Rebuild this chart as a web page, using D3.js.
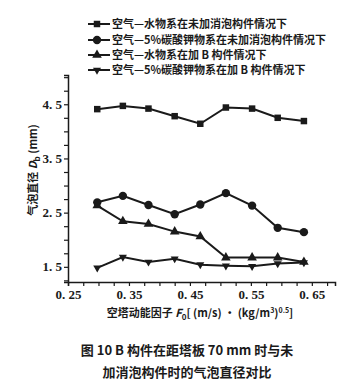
<!DOCTYPE html>
<html><head><meta charset="utf-8">
<script src="https://cdn.jsdelivr.net/npm/d3@7"></script>
<style>body{margin:0;background:#fff}svg{display:block}</style>
</head><body>
<script>
const xValues = [0.298, 0.340, 0.382, 0.425, 0.467, 0.509, 0.552, 0.594, 0.637];
const waterNoPart = [4.41, 4.47, 4.42, 4.28, 4.14, 4.44, 4.42, 4.25, 4.19];
const k2co3NoPart = [2.69, 2.81, 2.64, 2.47, 2.65, 2.86, 2.63, 2.22, 2.14];
const waterB = [2.63, 2.34, 2.29, 2.15, 2.06, 1.67, 1.67, 1.67, 1.59];
const k2co3B = [1.48, 1.68, 1.59, 1.65, 1.54, 1.52, 1.51, 1.56, 1.58];
const seriesNames = ["空气—水物系在未加消泡构件情况下","空气—5%碳酸钾物系在未加消泡构件情况下","空气—水物系在加 B 构件情况下","空气—5%碳酸钾物系在加 B 构件情况下"];
const symbols = [d3.symbolSquare, d3.symbolCircle, d3.symbolTriangle, d3.symbolTriangle];
const xTickLabels = [0.25, 0.35, 0.45, 0.55, 0.65];
const yTickLabels = [1.5, 2.5, 3.5, 4.5];

const W = 356, H = 388;
const svg = d3.select("body").append("svg").attr("width", W).attr("height", H);
const ink = "#1a1a1a";
const x = d3.scaleLinear().domain([0.25, 0.688]).range([68, 335]);
const y = d3.scaleLinear().domain([1.22, 5.04]).range([282, 75]);
const tickFont = "'Liberation Serif', 'DejaVu Serif', serif";
const cjk = "'Noto Sans CJK SC', sans-serif";

// axes
const xAxis = d3.axisBottom(x).tickValues(d3.range(0.25, 0.69, 0.025)).tickSize(4).tickFormat(d => {
  const r = Math.round(d * 1000) / 1000;
  return xTickLabels.some(v => Math.abs(v - r) < 1e-6) ? r.toFixed(2).replace(".", ". ") : "";
});
const gx = svg.append("g").attr("transform", "translate(0,282)").call(xAxis);
gx.select(".domain").attr("stroke", ink).attr("stroke-width", 1.5);
gx.selectAll(".tick line").attr("stroke", ink).attr("stroke-width", 1.2);
gx.selectAll("text").attr("font-family", tickFont).attr("font-size", 13).attr("font-weight", "bold").attr("fill", ink).attr("dy", "0.75em");

const yAxis = d3.axisLeft(y).tickValues(d3.range(1.25, 5.01, 0.25)).tickSize(4).tickFormat(d => {
  const r = Math.round(d * 100) / 100;
  return yTickLabels.some(v => Math.abs(v - r) < 1e-6) ? r.toFixed(1).replace(".", ". ") : "";
});
const gy = svg.append("g").attr("transform", "translate(68,0)").call(yAxis);
gy.select(".domain").attr("stroke", ink).attr("stroke-width", 1.5);
gy.selectAll(".tick line").attr("stroke", ink).attr("stroke-width", 1.2);
gy.selectAll("text").attr("font-family", tickFont).attr("font-size", 13).attr("font-weight", "bold").attr("fill", ink).attr("x", -6);

// series
const allSeries = [waterNoPart, k2co3NoPart, waterB, k2co3B];
const sizes = [42, 55, 40, 28];
const line = d3.line().x((d, i) => x(xValues[i])).y(d => y(d));
allSeries.forEach((s, k) => {
  svg.append("path").attr("d", line(s)).attr("fill", "none").attr("stroke", ink).attr("stroke-width", 2);
  svg.selectAll(null).data(s).enter().append("path")
    .attr("d", d3.symbol().type(symbols[k]).size(sizes[k]))
    .attr("transform", (d, i) => `translate(${x(xValues[i])},${y(d)})${k === 3 ? " rotate(180)" : ""}`)
    .attr("fill", ink);
});

// legend
const legY = [24, 40, 55, 70];
seriesNames.forEach((name, k) => {
  const g = svg.append("g").attr("transform", `translate(0,${legY[k]})`);
  g.append("line").attr("x1", 88).attr("x2", 110).attr("y1", 0).attr("y2", 0).attr("stroke", ink).attr("stroke-width", 2);
  g.append("path").attr("d", d3.symbol().type(symbols[k]).size(sizes[k])).attr("transform", `translate(97,0)${k === 3 ? " rotate(180)" : ""}`).attr("fill", ink);
  g.append("text").attr("x", 112).attr("y", 0).attr("dy", "0.35em").attr("font-family", cjk).attr("font-size", 11).attr("font-weight", "bold").attr("fill", ink).text(name);
});

// axis titles
const yt = svg.append("text").attr("transform", "translate(33,170) rotate(-90)").attr("text-anchor", "middle").attr("dy", "0.35em")
  .attr("font-family", cjk).attr("font-size", 11).attr("font-weight", "bold").attr("fill", ink);
yt.append("tspan").text("气泡直径 ");
yt.append("tspan").attr("font-style", "italic").text("D");
yt.append("tspan").attr("font-size", 8).attr("dy", 3).text("b");
yt.append("tspan").attr("dy", -3).text(" (mm)");

const xt = svg.append("text").attr("x", 200).attr("y", 313).attr("text-anchor", "middle").attr("dy", "0.35em")
  .attr("font-family", cjk).attr("font-size", 11).attr("font-weight", "bold").attr("fill", ink);
xt.append("tspan").text("空塔动能因子 ");
xt.append("tspan").attr("font-style", "italic").text("F");
xt.append("tspan").attr("font-size", 8).attr("dy", 3).text("0");
xt.append("tspan").attr("dy", -3).text("[ (m/s) · (kg/m");
xt.append("tspan").attr("font-size", 7).attr("dy", -4).text("3");
xt.append("tspan").attr("dy", 4).text(")");
xt.append("tspan").attr("font-size", 7).attr("dy", -4).text("0.5");
xt.append("tspan").attr("dy", 4).text("]");

// caption
svg.append("text").attr("x", 187).attr("y", 350).attr("text-anchor", "middle").attr("dy", "0.35em")
  .attr("font-family", cjk).attr("font-size", 13).attr("font-weight", "bold").attr("fill", ink).text("图 10  B 构件在距塔板 70 mm 时与未");
svg.append("text").attr("x", 187).attr("y", 372).attr("text-anchor", "middle").attr("dy", "0.35em")
  .attr("font-family", cjk).attr("font-size", 13).attr("font-weight", "bold").attr("fill", ink).text("加消泡构件时的气泡直径对比");
</script>
</body></html>
